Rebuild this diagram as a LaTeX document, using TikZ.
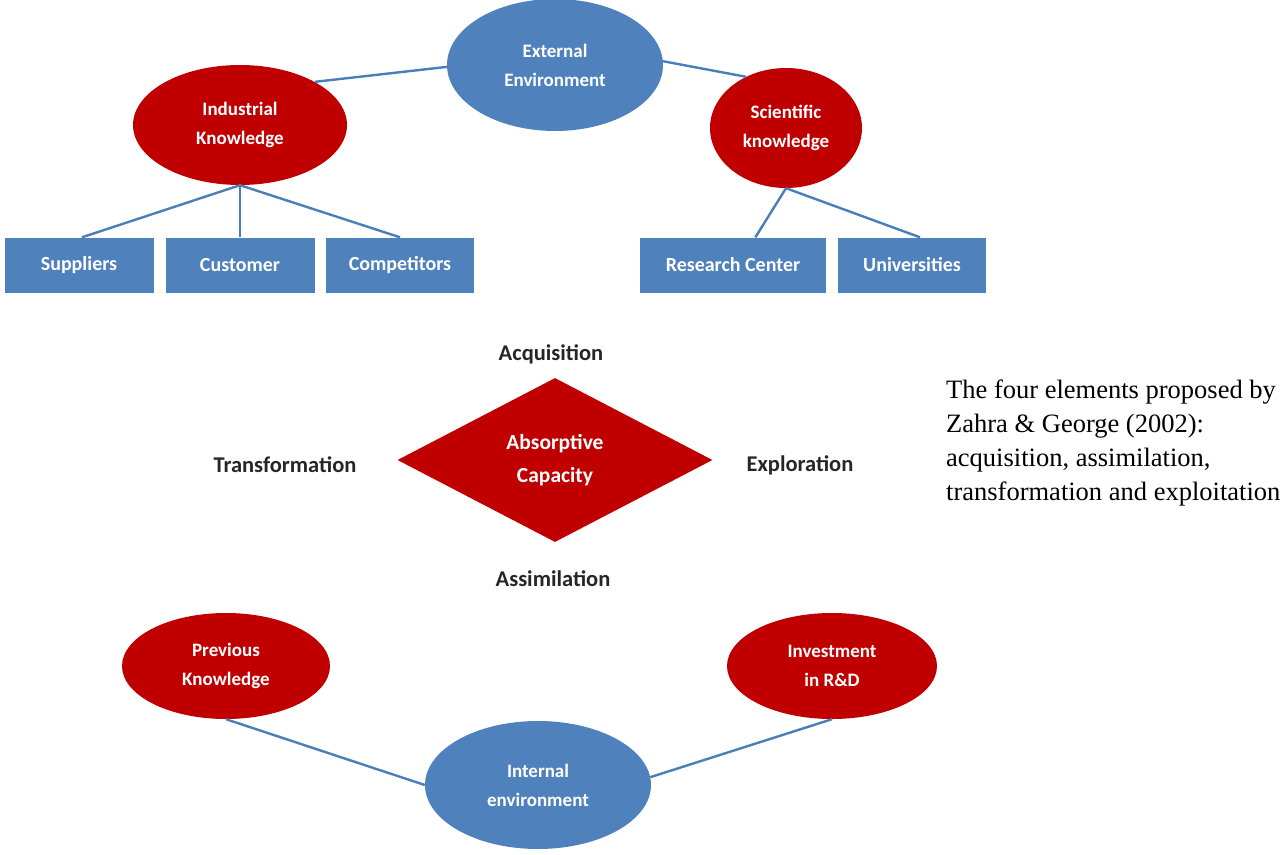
\documentclass[tikz,border=0pt]{standalone}
\usepackage{fontspec}
\setmainfont{Liberation Serif}
\newfontfamily\calfont{Carlito}
\usetikzlibrary{shapes.geometric,calc}
\definecolor{dred}{RGB}{192,0,0}
\definecolor{oblue}{RGB}{79,129,189}
\definecolor{lblue}{RGB}{74,126,187}
\tikzset{
  redell/.style={ellipse,fill=dred,draw=none,inner sep=0pt,text=white,align=center,
    font=\calfont\bfseries\fontsize{19}{29}\selectfont},
  blueell/.style={ellipse,fill=oblue,draw=none,inner sep=0pt,text=white,align=center,
    font=\calfont\bfseries\fontsize{19}{29}\selectfont},
  bluebox/.style={rectangle,fill=oblue,draw=none,inner sep=0pt,text=white,
    minimum height=55pt,font=\calfont\bfseries\fontsize{20}{22}\selectfont},
  lbl/.style={text=black!85,font=\calfont\bfseries\fontsize{22.5}{24}\selectfont},
  conn/.style={draw=lblue,line width=2.4pt}
}
\begin{document}
\begin{tikzpicture}[x=1pt,y=-1pt]
\useasboundingbox (0,0) rectangle (1285,854);
% top
\node[blueell,minimum width=216pt,minimum height=132pt] (ext) at (555,65) {External\\Environment};
\node[redell,minimum width=214pt,minimum height=120pt] (ind) at (240,125) {Industrial\\Knowledge};
\node[redell,minimum width=152pt,minimum height=120pt] (sci) at (786,128) {Scientific\\knowledge};
\node[bluebox,minimum width=149pt] (sup) at (79,265) {Suppliers};
\node[bluebox,minimum width=149pt] (cus) at (240,265) {Customer};
\node[bluebox,minimum width=148pt] (com) at (400,265) {Competitors};
\node[bluebox,minimum width=186pt] (rc) at (733,265) {Research Center};
\node[bluebox,minimum width=148pt] (uni) at (912,265) {Universities};
\draw[conn] (ind.30) -- (ext.181);
\draw[conn] (ext.2) -- (sci.128);
\draw[conn] (ind.south) -- ($(sup.north)+(3,0)$);
\draw[conn] (ind.south) -- (cus.north);
\draw[conn] (ind.south) -- (com.north);
\draw[conn] (sci.south) -- ($(rc.north west)!0.62!(rc.north east)$);
\draw[conn] (sci.south) -- ($(uni.north)+(8,0)$);
% middle
\node[diamond,fill=dred,draw=none,inner sep=0pt,minimum width=315pt,minimum height=164pt,
  aspect=1.9,text=white,align=center,font=\calfont\bfseries\fontsize{21.5}{33}\selectfont]
  (abs) at (555,460) {Absorptive\\Capacity};
\node[lbl] (acq) at (551,354) {Acquisition};
\node[lbl] (tra) at (285,465) {Transformation};
\node[lbl] (exp) at (800,465) {Exploration};
\node[lbl] (ass) at (553,579) {Assimilation};
\node[anchor=north west,inner sep=0pt,align=left,font=\fontsize{26.5}{34}\selectfont] (note) at (946,380)
  {The four elements proposed by\\Zahra \& George (2002):\\acquisition, assimilation,\\transformation and exploitation};
% bottom
\node[redell,minimum width=208pt,minimum height=106pt] (prev) at (226,666) {Previous\\Knowledge};
\node[redell,minimum width=210pt,minimum height=106pt] (inv) at (832,666) {Investment\\in R\&D};
\node[blueell,minimum width=226pt,minimum height=128pt] (int) at (538,785) {Internal\\environment};
\draw[conn] (prev.south) -- (int.180);
\draw[conn] (inv.south) -- (int.4);
\end{tikzpicture}
\end{document}
